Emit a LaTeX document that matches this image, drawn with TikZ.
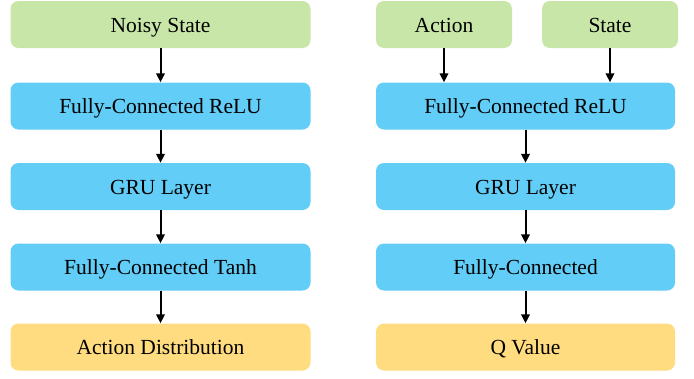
\documentclass[tikz,border=0pt]{standalone}
\usepackage{fontspec}
\setmainfont{Liberation Serif}
\usetikzlibrary{arrows.meta}
\definecolor{boxgreen}{HTML}{C8E6A7}
\definecolor{boxblue}{HTML}{62CDF6}
\definecolor{boxyellow}{HTML}{FFDC7F}
\begin{document}
\begin{tikzpicture}[x=1pt,y=-1pt,
  box/.style={rectangle, rounded corners=8pt, inner sep=0pt, minimum height=47pt,
    text height=15pt, text depth=0pt,
    font=\fontsize{21.5}{24}\selectfont, text=black},
  wide/.style={box, minimum width=300pt},
  narrow/.style={box, minimum width=136pt},
  inbox/.style={fill=boxgreen},
  layerbox/.style={fill=boxblue},
  outbox/.style={fill=boxyellow},
  conn/.style={-{Triangle[length=9pt,width=8.5pt]}, line width=2pt, black}]
\useasboundingbox (0,0) rectangle (694,378);
% left column
\node[wide,inbox]    (ns)  at (160.5,24.5) {Noisy State};
\node[wide,layerbox] (lfc) at (160.5,106)  {Fully-Connected ReLU};
\node[wide,layerbox] (lgru) at (160.5,186.5) {GRU Layer};
\node[wide,layerbox] (ltanh) at (160.5,267) {Fully-Connected Tanh};
\node[wide,outbox]   (ad)  at (160.5,347)  {Action Distribution};
% right column
\node[narrow,inbox]  (act) at (444,24.5) {Action};
\node[narrow,inbox]  (st)  at (610,24.5) {State};
\node[wide,layerbox,minimum width=299pt] (rfc) at (525.5,106) {Fully-Connected ReLU};
\node[wide,layerbox,minimum width=299pt] (rgru) at (525.5,186.5) {GRU Layer};
\node[wide,layerbox,minimum width=299pt] (rfc2) at (525.5,267) {Fully-Connected};
\node[wide,outbox,minimum width=299pt]   (qv)  at (525.5,347) {Q Value};
% connectors
\draw[conn] (ns) -- (lfc);
\draw[conn] (lfc) -- (lgru);
\draw[conn] (lgru) -- (ltanh);
\draw[conn] (ltanh) -- (ad);
\draw[conn] (act.south) -- (act.south |- rfc.north);
\draw[conn] (st.south) -- (st.south |- rfc.north);
\draw[conn] (rfc) -- (rgru);
\draw[conn] (rgru) -- (rfc2);
\draw[conn] (rfc2) -- (qv);
\end{tikzpicture}
\end{document}
